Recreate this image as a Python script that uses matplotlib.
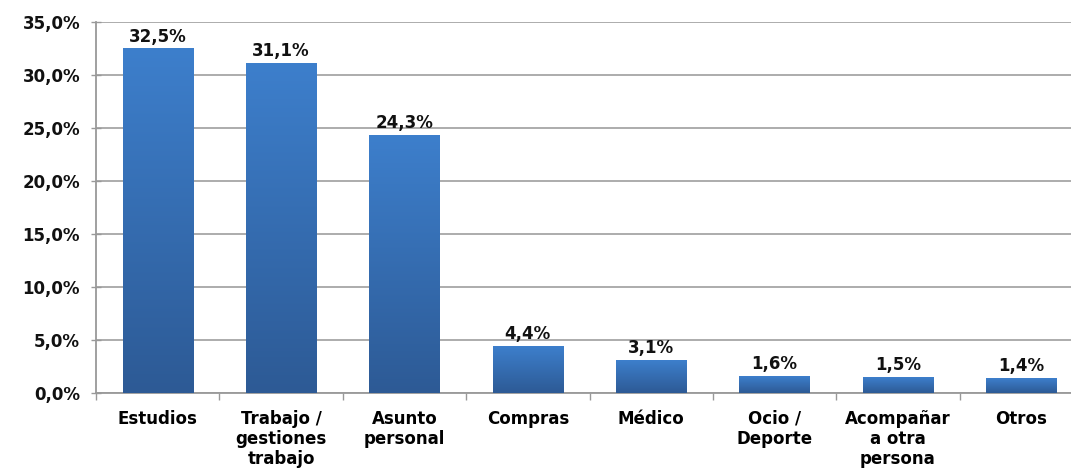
import matplotlib
matplotlib.use("Agg")
import matplotlib.pyplot as plt
import numpy as np
from matplotlib.ticker import FuncFormatter

categorias = ["Estudios", "Trabajo /\ngestiones\ntrabajo", "Asunto\npersonal", "Compras",
              "Médico", "Ocio /\nDeporte", "Acompañar\na otra\npersona", "Otros"]
valores = [32.5, 31.1, 24.3, 4.4, 3.1, 1.6, 1.5, 1.4]
etiquetas = ["32,5%", "31,1%", "24,3%", "4,4%", "3,1%", "1,6%", "1,5%", "1,4%"]
yticks = [0, 5, 10, 15, 20, 25, 30, 35]

plt.rcParams['font.family'] = ['DejaVu Sans']
fs = 12

fig = plt.figure(figsize=(10.71, 4.72), dpi=100)
ax = fig.add_axes([96/1071, 1 - 393/472, 987/1071, 371/472])

x = np.arange(len(valores))
w = 0.57

# gradiente vertical de cada barra (claro arriba, oscuro abajo)
grad = np.linspace(0, 1, 256).reshape(-1, 1)
cmap = matplotlib.colors.LinearSegmentedColormap.from_list("azul", ["#2d5a95", "#3d7fcc"])
bars = ax.bar(x, valores, width=w, color="none", edgecolor="none", zorder=3)
for b, v in zip(bars, valores):
    ax.imshow(grad, cmap=cmap, origin="lower", aspect="auto",
              extent=[b.get_x(), b.get_x() + w, 0, v], zorder=3)

for xi, v, t in zip(x, valores, etiquetas):
    ax.annotate(t, (xi, v), xytext=(0, 5), textcoords="offset points",
                ha="center", va="baseline", fontsize=fs,
                fontweight="bold", color="#111111", zorder=4)

ax.set_xlim(-0.5, len(valores) - 0.5)
ax.set_ylim(0, 35)
ax.set_yticks(yticks)
ax.yaxis.set_major_formatter(FuncFormatter(lambda v, p: f"{v:.1f}%".replace(".", ",")))
ax.set_xticks(x)
ax.set_xticklabels(categorias, fontsize=fs, fontweight="bold", linespacing=1.15)
ax.set_xticks(np.arange(len(valores) + 1) - 0.5, minor=True)
ax.tick_params(axis="x", which="major", length=0, pad=12)
ax.tick_params(axis="x", which="minor", length=5, color="#999999", width=1)
ax.tick_params(axis="y", length=7, direction="inout", color="#999999", width=1, pad=8)
for lab in ax.get_yticklabels():
    lab.set_fontweight("bold")
    lab.set_fontsize(fs)
    lab.set_color("#111111")

ax.grid(axis="y", color="#a6a6a6", linewidth=1.3, zorder=0)
for s in ["top", "right"]:
    ax.spines[s].set_visible(False)
ax.spines["left"].set_color("#999999")
ax.spines["bottom"].set_color("#999999")
ax.spines["left"].set_linewidth(1.3)
ax.spines["bottom"].set_linewidth(1.3)

fig.savefig("out.png", dpi=100)
